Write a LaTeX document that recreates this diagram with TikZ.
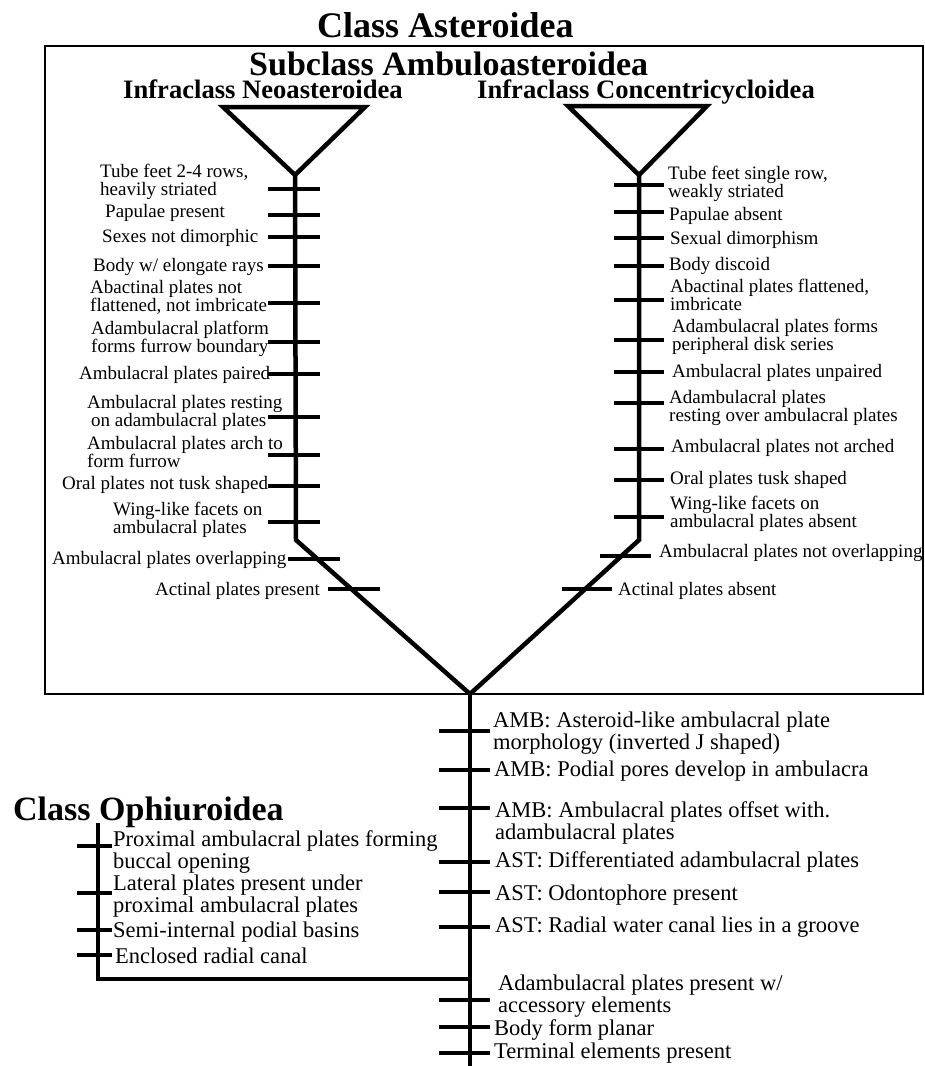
\documentclass[tikz,border=0pt]{standalone}
\usepackage{fontspec}
\setmainfont{Liberation Serif}
\newcommand{\twol}[2]{\vtop{\hbox{#1}\hbox{#2}}}
\tikzset{
  stemline/.style={line width=4.5pt, line join=miter},
  tickbar/.style={line width=4.5pt},
  boxline/.style={line width=2pt},
  lab/.style={inner sep=0pt, anchor=base west, font=\fontsize{19}{18.5}\selectfont},
  blab/.style={inner sep=0pt, anchor=base west, font=\fontsize{22.5}{22}\selectfont},
  ttl/.style={inner sep=0pt, anchor=base west, font=\bfseries\fontsize{#1}{#1}\selectfont}
}
\begin{document}
\begin{tikzpicture}[x=1pt,y=-1pt]
\useasboundingbox (0,0) rectangle (925,1066);
% frame
\draw[boxline] (45,46) rectangle (923,694);
% titles
\node[ttl=36] (cA) at (317,37) {Class Asteroidea};
\node[ttl=34] (sA) at (249,75) {Subclass Ambuloasteroidea};
\node[ttl=26.6] (iN) at (123,98) {Infraclass Neoasteroidea};
\node[ttl=26.6] (iC) at (477,98) {Infraclass Concentricycloidea};
\node[ttl=34] (cO) at (13,820) {Class Ophiuroidea};
% tree coordinates
\coordinate (tlA) at (223,107);
\coordinate (tlB) at (365,107);
\coordinate (apL) at (295,175);
\coordinate (bendL) at (296,540);
\coordinate (root) at (470,694);
\coordinate (trA) at (568,106);
\coordinate (trB) at (707,106);
\coordinate (apR) at (639,175);
\coordinate (bendR) at (639,540);
\coordinate (bot) at (470,1066);
\coordinate (oTop) at (98,823);
\coordinate (oCorner) at (98,979);
\coordinate (oJoin) at (470,979);
% tree
\draw[stemline] (tlA) -- (tlB) -- (apL) -- cycle;
\draw[stemline] (trA) -- (trB) -- (apR) -- cycle;
\draw[stemline] (apL) -- (bendL) -- (root) -- (bendR) -- (apR);
\draw[stemline] (root) -- (bot);
\draw[stemline] (oTop) -- (oCorner) -- (oJoin);
% ticks
\foreach \y in {189,215,237,266,303,342,374,417,455,486,522}
  \draw[tickbar] (268,\y) -- (320,\y);
\draw[tickbar] (288,559) -- (340,559);
\draw[tickbar] (328,589) -- (380,589);
\foreach \y in {185,212,238,266,300,340,372,403,449,480,517}
  \draw[tickbar] (614,\y) -- (664,\y);
\draw[tickbar] (600,556) -- (651,556);
\draw[tickbar] (562,589) -- (612,589);
\foreach \y in {731,770,808,862,892,927,1000,1027,1053}
  \draw[tickbar] (439,\y) -- (490,\y);
\foreach \y in {846,893,930,955}
  \draw[tickbar] (77,\y) -- (112,\y);
% left labels
\node[lab] (nl1) at (100,177) {\twol{Tube feet 2-4 rows,}{heavily striated}};
\node[lab] (nl2) at (105,217) {Papulae present};
\node[lab] (nl3) at (102,242) {Sexes not dimorphic};
\node[lab] (nl4) at (93,271) {Body w/ elongate rays};
\node[lab] (nl5) at (90,293) {\twol{Abactinal plates not}{flattened, not imbricate}};
\node[lab] (nl6) at (91,334) {\twol{Adambulacral platform}{forms furrow boundary}};
\node[lab] (nl7) at (79,379) {Ambulacral plates paired};
\node[lab] (nl8) at (87,408) {\twol{Ambulacral plates resting}{\kern4pt on adambulacral plates}};
\node[lab] (nl9) at (87,449) {\twol{Ambulacral plates arch to}{form furrow}};
\node[lab] (nl10) at (62,489) {Oral plates not tusk shaped};
\node[lab] (nl11) at (113,515) {\twol{Wing-like facets on}{ambulacral plates}};
\node[lab] (nl12) at (52,564) {Ambulacral plates overlapping};
\node[lab] (nl13) at (155,595) {Actinal plates present};
% right labels
\node[lab] (nr1) at (668,179) {\twol{Tube feet single row,}{weakly striated}};
\node[lab] (nr2) at (669,220) {Papulae absent};
\node[lab] (nr3) at (670,244) {Sexual dimorphism};
\node[lab] (nr4) at (669,270) {Body discoid};
\node[lab] (nr5) at (670,292) {\twol{Abactinal plates flattened,}{imbricate}};
\node[lab] (nr6) at (672,332) {\twol{Adambulacral plates forms}{peripheral disk series}};
\node[lab] (nr7) at (672,377) {Ambulacral plates unpaired};
\node[lab] (nr8) at (669,403) {\twol{Adambulacral plates}{resting over ambulacral plates}};
\node[lab] (nr9) at (671,452) {Ambulacral plates not arched};
\node[lab] (nr10) at (670,484) {Oral plates tusk shaped};
\node[lab] (nr11) at (670,509) {\twol{Wing-like facets on}{ambulacral plates absent}};
\node[lab] (nr12) at (659,557) {Ambulacral plates not overlapping};
\node[lab] (nr13) at (618,595) {Actinal plates absent};
% bottom labels
\node[blab] (nb1) at (493,727) {\twol{AMB: Asteroid-like ambulacral plate}{morphology (inverted J shaped)}};
\node[blab] (nb2) at (494,776) {AMB: Podial pores develop in ambulacra};
\node[blab] (nb3) at (495,817) {\twol{AMB: Ambulacral plates offset with.}{adambulacral plates}};
\node[blab] (nb4) at (495,867) {AST: Differentiated adambulacral plates};
\node[blab] (nb5) at (495,900) {AST: Odontophore present};
\node[blab] (nb6) at (495,932) {AST: Radial water canal lies in a groove};
\node[blab] (nb7) at (498,990) {\twol{Adambulacral plates present w/}{accessory elements}};
\node[blab] (nb8) at (494,1035) {Body form planar};
\node[blab] (nb9) at (494,1058) {Terminal elements present};
% Ophiuroidea labels
\node[blab] (no1) at (113,846) {\twol{Proximal ambulacral plates forming}{buccal opening}};
\node[blab] (no2) at (113,890) {\twol{Lateral plates present under}{proximal ambulacral plates}};
\node[blab] (no3) at (113,937) {Semi-internal podial basins};
\node[blab] (no4) at (115,963) {Enclosed radial canal};
\end{tikzpicture}
\end{document}
